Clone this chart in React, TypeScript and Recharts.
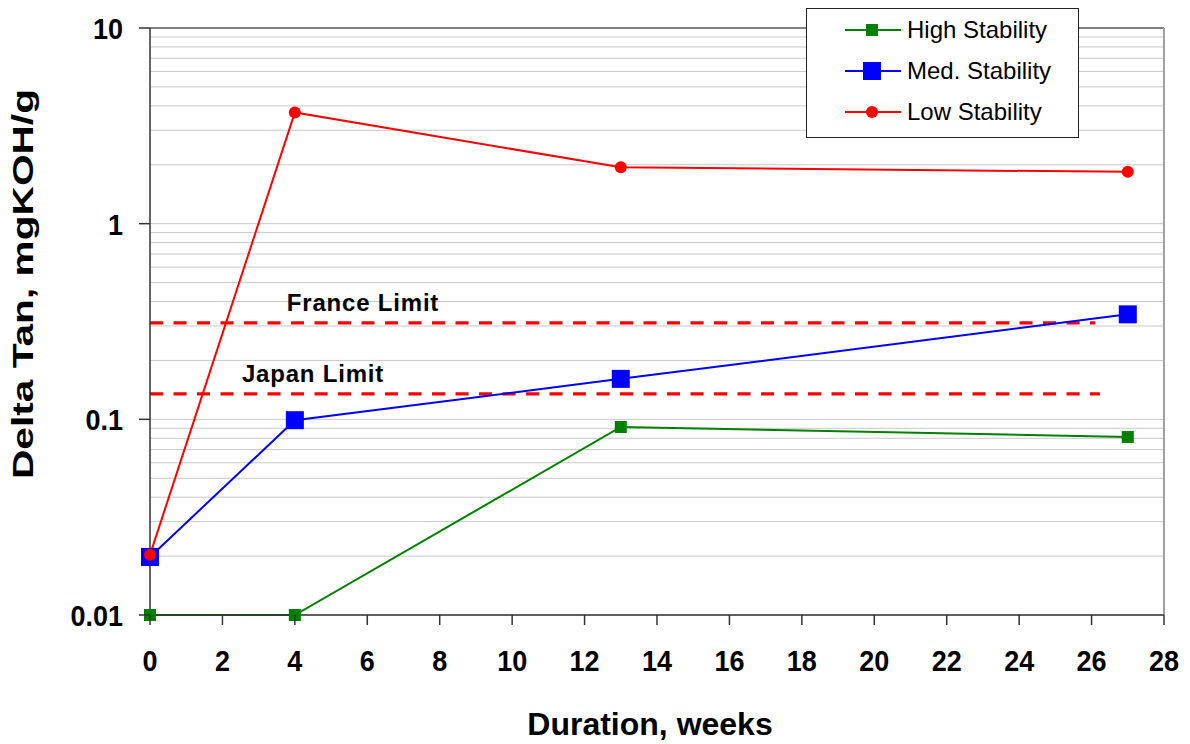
import React from 'react';
import { LineChart, Line, XAxis, YAxis, CartesianGrid, ReferenceLine, Legend } from 'recharts';

const weeks = [0, 4, 13, 27];
const highStability = [0.01, 0.01, 0.0914, 0.0812];
const medStability = [0.0198, 0.099, 0.161, 0.344];
const lowStability = [0.0203, 3.7, 1.94, 1.84];

const xTicks = [0, 2, 4, 6, 8, 10, 12, 14, 16, 18, 20, 22, 24, 26, 28];
const yMajor = [0.01, 0.1, 1, 10];
const yMajorLabels = ['0.01', '0.1', '1', '10'];
const yGridTicks = [
  0.01, 0.02, 0.03, 0.04, 0.05, 0.06, 0.07, 0.08, 0.09,
  0.1, 0.2, 0.3, 0.4, 0.5, 0.6, 0.7, 0.8, 0.9,
  1, 2, 3, 4, 5, 6, 7, 8, 9, 10,
];

const franceLimit = 0.311;
const japanLimit = 0.135;
const franceRange = [0, 26.1];
const japanRange = [0, 26.23];

const data = weeks.map((w, i) => ({
  week: w,
  high: highStability[i],
  med: medStability[i],
  low: lowStability[i],
}));

const FONT = '"Liberation Sans", Arial, Helvetica, sans-serif';
const GREEN = '#008000';
const BLUE = '#0000FF';
const RED = '#FF0000';

const YTick = (props: any) => {
  const { x, y, payload } = props;
  const idx = yMajor.findIndex((v) => Math.abs(v - payload.value) < 1e-9);
  if (idx < 0) return <g />;
  return (
    <g>
      <line x1={x - 11} x2={x} y1={y} y2={y} stroke="#333" strokeWidth={1.5} />
      <text
        transform={`translate(${x - 27},${y + 11}) scale(1,1.12)`}
        textAnchor="end"
        fontFamily={FONT}
        fontWeight="bold"
        fontSize={27}
        fill="#000"
      >
        {yMajorLabels[idx]}
      </text>
    </g>
  );
};

const XTick = (props: any) => {
  const { x, y, payload } = props;
  return (
    <g>
      <line x1={x} x2={x} y1={y} y2={y + 10} stroke="#333" strokeWidth={1.5} />
      <text
        transform={`translate(${x},${y + 56}) scale(1,1.12)`}
        textAnchor="middle"
        fontFamily={FONT}
        fontWeight="bold"
        fontSize={27}
        fill="#000"
      >
        {payload.value}
      </text>
    </g>
  );
};

const SquareDot = (size: number, color: string) => (props: any) => {
  const { cx, cy, index } = props;
  if (cx == null || cy == null) return <g key={index} />;
  return <rect key={index} x={cx - size / 2} y={cy - size / 2} width={size} height={size} fill={color} />;
};

const CircleDot = (r: number, color: string) => (props: any) => {
  const { cx, cy, index } = props;
  if (cx == null || cy == null) return <g key={index} />;
  return <circle key={index} cx={cx} cy={cy} r={r} fill={color} />;
};

const legendItems = [
  { name: 'High Stability', color: GREEN, marker: 'sq', size: 12 },
  { name: 'Med. Stability', color: BLUE, marker: 'sq', size: 18 },
  { name: 'Low Stability', color: RED, marker: 'ci', size: 12 },
];

const LegendBox = () => (
  <div
    style={{
      boxSizing: 'border-box',
      width: 273,
      height: 130,
      border: '1.5px solid #222',
      background: '#fff',
      position: 'relative',
      fontFamily: FONT,
    }}
  >
    {legendItems.map((it, i) => (
      <div key={it.name} style={{ position: 'absolute', left: 0, top: 21 + i * 41 - 15, height: 30, width: 271 }}>
        <svg width={60} height={30} style={{ position: 'absolute', left: 37, top: 0 }}>
          <line x1={1} x2={57} y1={15} y2={15} stroke={it.color} strokeWidth={2} />
          {it.marker === 'sq' ? (
            <rect x={28 - it.size / 2} y={15 - it.size / 2} width={it.size} height={it.size} fill={it.color} />
          ) : (
            <circle cx={28} cy={15} r={it.size / 2} fill={it.color} />
          )}
        </svg>
        <span
          style={{
            position: 'absolute',
            left: 100,
            top: 0,
            lineHeight: '30px',
            fontSize: 24,
            color: '#000',
            whiteSpace: 'nowrap',
          }}
        >
          {it.name}
        </span>
      </div>
    ))}
  </div>
);

const limitLabel = (text: string, dx: number, dy: number) => (props: any) => {
  const vb = props.viewBox || {};
  return (
    <text
      x={(vb.x || 0) + dx}
      y={(vb.y || 0) + dy}
      textAnchor="middle"
      fontFamily={FONT}
      fontWeight="bold"
      fontSize={24}
      letterSpacing={0.8}
      fill="#000"
    >
      {text}
    </text>
  );
};

export default function App() {
  return (
    <div style={{ width: 1180, height: 736, position: 'relative', background: '#fff' }}>
      <LineChart
        width={1180}
        height={736}
        data={data}
        margin={{ top: 20, right: 24, left: 0, bottom: 0 }}
      >
        <CartesianGrid horizontal={true} vertical={false} stroke="#c8c8c8" strokeWidth={1} />
        <XAxis
          dataKey="week"
          type="number"
          domain={[0, 28]}
          ticks={xTicks}
          interval={0}
          height={129}
          tickSize={0}
          tickMargin={0}
          tickLine={false}
          axisLine={{ stroke: '#333', strokeWidth: 1.5 }}
          tick={<XTick />}
          label={(p: any) => {
            const vb = p.viewBox || {};
            return (
              <text
                x={(vb.x || 0) + (vb.width || 0) / 2 - 7}
                y={(vb.y || 0) + 120}
                textAnchor="middle"
                fontFamily={FONT}
                fontWeight="bold"
                fontSize={32}
                fill="#000"
              >
                Duration, weeks
              </text>
            );
          }}
        />
        <YAxis
          type="number"
          scale="log"
          domain={[0.01, 10]}
          ticks={yGridTicks}
          interval={0}
          width={142}
          tickSize={0}
          tickMargin={0}
          tickLine={false}
          axisLine={{ stroke: '#333', strokeWidth: 1.5 }}
          tick={<YTick />}
          label={(p: any) => {
            const vb = p.viewBox || {};
            const cx = 25;
            const cy = (vb.y || 0) + 256;
            return (
              <text
                transform={`translate(${cx},${cy}) rotate(-90)`}
                textAnchor="middle"
                fontFamily={FONT}
                fontWeight="bold"
                fontSize={29}
                textLength={390}
                lengthAdjust="spacingAndGlyphs"
                fill="#000"
              >
                Delta Tan, mgKOH/g
              </text>
            );
          }}
        />
        <ReferenceLine y={10} stroke="#808080" strokeWidth={2} />
        <ReferenceLine x={28} stroke="#a0a0a0" strokeWidth={2} />
        <ReferenceLine
          segment={[
            { x: franceRange[0], y: franceLimit },
            { x: franceRange[1], y: franceLimit },
          ]}
          stroke={RED}
          strokeWidth={3.3}
          strokeDasharray="13 10.5"
          label={limitLabel('France Limit', 213, -12)}
        />
        <ReferenceLine
          segment={[
            { x: japanRange[0], y: japanLimit },
            { x: japanRange[1], y: japanLimit },
          ]}
          stroke={RED}
          strokeWidth={3.3}
          strokeDasharray="13 10.5"
          label={limitLabel('Japan Limit', 163, -12)}
        />
        <Line
          dataKey="high"
          name="High Stability"
          stroke={GREEN}
          strokeWidth={2}
          dot={SquareDot(12, GREEN)}
          isAnimationActive={false}
        />
        <Line
          dataKey="med"
          name="Med. Stability"
          stroke={BLUE}
          strokeWidth={2}
          dot={SquareDot(18, BLUE)}
          isAnimationActive={false}
        />
        <Line
          dataKey="low"
          name="Low Stability"
          stroke={RED}
          strokeWidth={2}
          dot={CircleDot(6, RED)}
          isAnimationActive={false}
        />
        <Legend
          layout="vertical"
          align="center"
          verticalAlign="middle"
          content={<LegendBox />}
          wrapperStyle={{ position: 'absolute', top: 0, left: 798, width: 273, height: 130, zIndex: 5 }}
        />
      </LineChart>
    </div>
  );
}
